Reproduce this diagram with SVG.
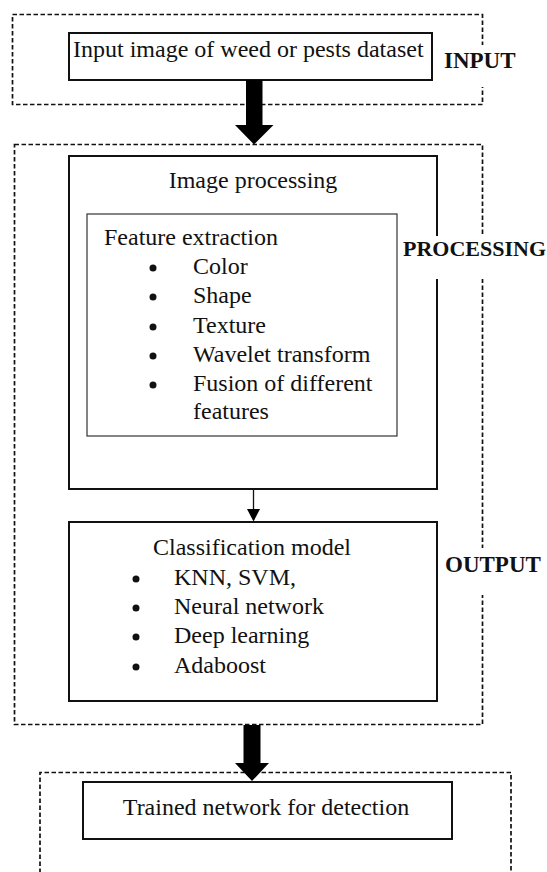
<svg xmlns="http://www.w3.org/2000/svg" width="547" height="872" viewBox="0 0 547 872">
  <style>
    .dash { fill: none; stroke: #111; stroke-width: 1.7; stroke-dasharray: 4.5 2.5; }
    .box { fill: none; stroke: #111; stroke-width: 2; }
    .thin { fill: none; stroke: #333; stroke-width: 1.2; }
    .t { font-family: "Liberation Serif", "Times New Roman", serif; font-size: 24px; fill: #111; }
    .lbl { font-family: "Liberation Serif", "Times New Roman", serif; font-weight: bold; fill: #111; }
    .mid { text-anchor: middle; }
    .bul { fill: #111; }
    .bg { fill: #fff; stroke: none; }
    .arrow { fill: #000; stroke: none; }
  </style>
  <rect width="547" height="872" fill="#fff"/>

  <g id="input-stage">
    <rect class="dash" x="12.5" y="14.5" width="470" height="90"/>
    <rect class="bg" x="440" y="45" width="107" height="42"/>
    <text class="lbl" x="444" y="68" font-size="23">INPUT</text>
  </g>

  <g id="input-image">
    <rect class="box" x="69" y="33" width="363" height="47"/>
    <text class="t" x="73" y="57">Input image of weed or pests dataset</text>
  </g>

  <g id="processing-stage">
    <rect class="dash" x="14.5" y="144.5" width="468" height="580"/>
  </g>

  <g id="image-processing">
    <rect class="box" x="69" y="156" width="368" height="333"/>
    <text class="t mid" x="253" y="188">Image processing</text>
  </g>

  <g id="feature-extraction">
    <rect class="thin" x="87" y="214" width="310" height="222"/>
    <text class="t" x="104" y="245">Feature extraction</text>
    <circle class="bul" cx="153" cy="268" r="3.5"/>
    <text class="t" x="193" y="274">Color</text>
    <circle class="bul" cx="153" cy="297" r="3.5"/>
    <text class="t" x="193" y="303">Shape</text>
    <circle class="bul" cx="153" cy="327" r="3.5"/>
    <text class="t" x="193" y="333">Texture</text>
    <circle class="bul" cx="153" cy="356" r="3.5"/>
    <text class="t" x="193" y="362">Wavelet transform</text>
    <circle class="bul" cx="153" cy="385" r="3.5"/>
    <text class="t" x="193" y="391">Fusion of different</text>
    <text class="t" x="193" y="419">features</text>
  </g>

  <g id="processing-label">
    <rect class="bg" x="400" y="236" width="147" height="43"/>
    <text class="lbl" x="403" y="256" font-size="22">PROCESSING</text>
  </g>

  <g id="classification-model">
    <rect class="box" x="69" y="522" width="368" height="179"/>
    <text class="t mid" x="252" y="555">Classification model</text>
    <circle class="bul" cx="136" cy="579" r="3.5"/>
    <text class="t" x="174" y="585">KNN, SVM,</text>
    <circle class="bul" cx="136" cy="608" r="3.5"/>
    <text class="t" x="174" y="614">Neural network</text>
    <circle class="bul" cx="136" cy="637" r="3.5"/>
    <text class="t" x="174" y="643">Deep learning</text>
    <circle class="bul" cx="136" cy="667" r="3.5"/>
    <text class="t" x="174" y="673">Adaboost</text>
  </g>

  <g id="output-label">
    <rect class="bg" x="441" y="548" width="106" height="47"/>
    <text class="lbl" x="445" y="572" font-size="23">OUTPUT</text>
  </g>

  <g id="detection-stage">
    <path class="dash" d="M40,873 V772.5 H511 V873"/>
  </g>

  <g id="trained-network">
    <rect class="box" x="83" y="782" width="369" height="57"/>
    <text class="t mid" x="266" y="815">Trained network for detection</text>
  </g>

  <g id="connectors">
    <polygon class="arrow" points="246,80 262.5,80 262.5,125 273.5,125 254,144.5 235,125 246,125"/>
    <line x1="253.5" y1="489" x2="253.5" y2="510" stroke="#111" stroke-width="1.3"/>
    <polygon class="arrow" points="247,509 260,509 253.5,521.5"/>
    <polygon class="arrow" points="243.5,725 260.5,725 260.5,763 269,763 252,781 235,763 243.5,763"/>
  </g>
</svg>
